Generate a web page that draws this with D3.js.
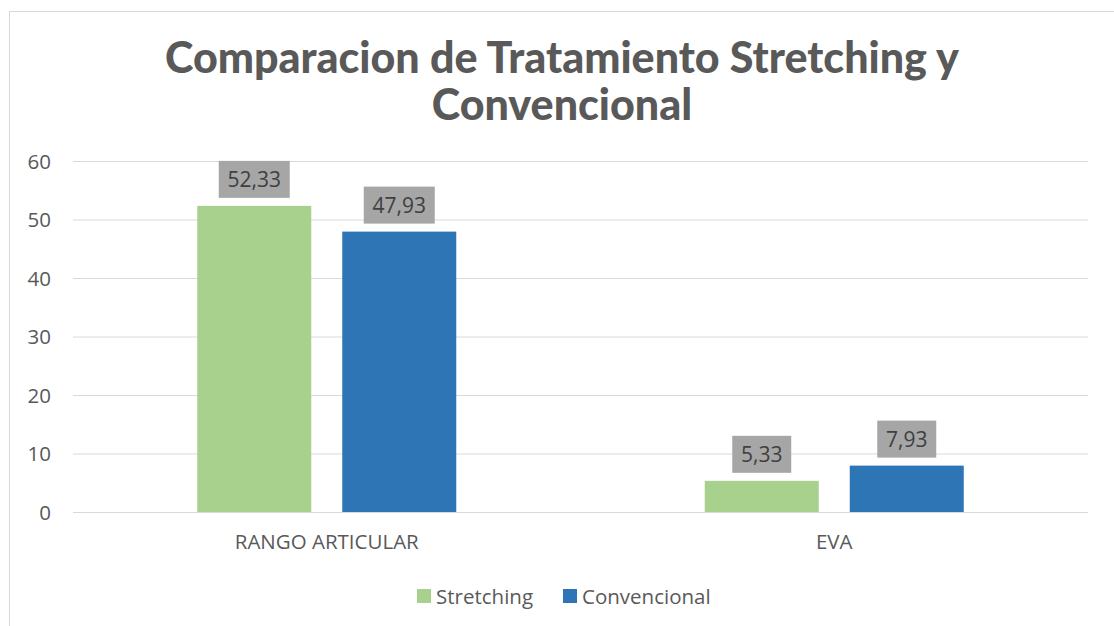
<!DOCTYPE html>
<html>
  <head>
    <meta charset="utf-8">
    <title>Comparacion de Tratamiento</title>
    <style type="text/css">
      body { margin: 0; background: #fff; }
      svg text { font-family: "Open Sans", "Noto Sans", sans-serif; }
      .axis text { fill: #595959; font-size: 20.5px; }
      .axis path { display: none; }
      .axis line { display: none; }
      .grid line { stroke: #d9d9d9; stroke-width: 1px; }
      .grid path { display: none; }
      .title { font-family: Lato, "DejaVu Sans", sans-serif !important; font-weight: 900; font-size: 43px; fill: #595959; }
      .lbl text { fill: #404040; font-size: 21px; }
      .legend text { fill: #595959; font-size: 20.5px; }
    </style>
  </head>
  <body>
    <script src="https://cdn.jsdelivr.net/npm/d3@7"></script>
    <script>
    var categories = ["RANGO ARTICULAR", "EVA"];
    var seriesNames = ["Stretching", "Convencional"];
    var stretching = [52.33, 5.33];
    var convencional = [47.93, 7.93];
    var yTicks = [0, 10, 20, 30, 40, 50, 60];
    var colors = ["#a9d18e", "#2e75b6"];

    var W = 1114, H = 626;
    var plotLeft = 73, plotRight = 1088, plotTop = 161, plotBottom = 512;

    var svg = d3.select("body").append("svg")
        .attr("width", W).attr("height", H);

    // outer chart border
    svg.append("rect")
        .attr("x", 9.5).attr("y", 11.5)
        .attr("width", W + 10).attr("height", H + 10)
        .attr("fill", "none").attr("stroke", "#d9d9d9");

    svg.append("text").attr("class", "title")
        .attr("x", 562).attr("y", 73).attr("text-anchor", "middle")
        .text("Comparacion de Tratamiento Stretching y");
    svg.append("text").attr("class", "title")
        .attr("x", 562).attr("y", 120).attr("text-anchor", "middle")
        .text("Convencional");

    var y = d3.scaleLinear().domain([0, 60]).range([plotBottom, plotTop]);
    var x0 = d3.scaleBand().domain(categories).range([plotLeft, plotRight]);
    // bars: 114 wide, 31 gap, centred in each band
    var x1 = d3.scaleBand().domain(seriesNames)
        .range([x0.bandwidth() / 2 - 129.5, x0.bandwidth() / 2 + 129.5])
        .paddingInner(31 / 145);

    svg.append("g").attr("class", "grid")
        .attr("transform", "translate(" + plotLeft + ",0)")
        .call(d3.axisLeft(y).tickValues(yTicks).tickSize(-(plotRight - plotLeft)).tickFormat(""));

    svg.append("g").attr("class", "y axis")
        .attr("transform", "translate(" + (plotLeft - 22) + ",0)")
        .call(d3.axisLeft(y).tickValues(yTicks).tickSize(0).tickPadding(0))
        .selectAll("text").attr("dy", "0.35em");

    svg.append("g").attr("class", "x axis")
        .attr("transform", "translate(0," + plotBottom + ")")
        .call(d3.axisBottom(x0).tickSize(0).tickPadding(22));

    var data = categories.map(function(c, i) {
      return [
        { cat: c, s: seriesNames[0], v: stretching[i], c: colors[0] },
        { cat: c, s: seriesNames[1], v: convencional[i], c: colors[1] }
      ];
    });

    var groups = svg.selectAll("g.cat").data(data).enter().append("g")
        .attr("class", "cat")
        .attr("transform", function(d, i) { return "translate(" + x0(categories[i]) + ",0)"; });

    groups.selectAll("rect.bar").data(function(d) { return d; }).enter().append("rect")
        .attr("class", "bar")
        .attr("x", function(d) { return x1(d.s); })
        .attr("width", x1.bandwidth())
        .attr("y", function(d) { return y(d.v); })
        .attr("height", function(d) { return y(0) - y(d.v); })
        .attr("fill", function(d) { return d.c; });

    var lbl = groups.selectAll("g.lbl").data(function(d) { return d; }).enter().append("g")
        .attr("class", "lbl")
        .attr("transform", function(d) {
          return "translate(" + (x1(d.s) + x1.bandwidth() / 2) + "," + (y(d.v) - 8) + ")";
        });
    lbl.append("rect")
        .attr("y", -37).attr("height", 37)
        .attr("x", function(d) { return d.v >= 10 ? -35.5 : -29.5; })
        .attr("width", function(d) { return d.v >= 10 ? 71 : 59; })
        .attr("fill", "#a6a6a6");
    lbl.append("text")
        .attr("y", -11).attr("text-anchor", "middle")
        .text(function(d) { return d.v.toFixed(2).replace(".", ","); });

    var legend = svg.append("g").attr("class", "legend");
    var lx = [417, 563];
    seriesNames.forEach(function(s, i) {
      legend.append("rect").attr("x", lx[i]).attr("y", 589)
          .attr("width", 14).attr("height", 14).attr("fill", colors[i]);
      legend.append("text").attr("x", lx[i] + 19).attr("y", 604).text(s);
    });
    </script>
  </body>
</html>
